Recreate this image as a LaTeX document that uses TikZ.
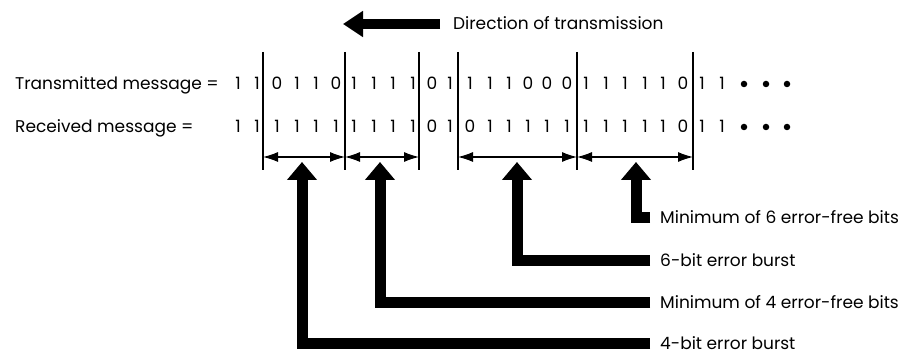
\documentclass[tikz,border=0pt]{standalone}
\usepackage{fontspec}
\setmainfont{Poppins}
\usetikzlibrary{arrows.meta}
\begin{document}
\begin{tikzpicture}[x=1pt,y=-1pt,
  txt/.style={font=\fontsize{17}{20}\selectfont, inner sep=0pt, text height=12pt, text depth=0pt},
  lbl/.style={txt, anchor=west},
  bit/.style={txt, anchor=center},
  sep/.style={line width=1.4pt},
  span/.style={line width=1.1pt, {Latex[length=15pt,width=10pt]}-{Latex[length=15pt,width=10pt]}},
  pointer/.style={line width=11pt, line join=miter, -{Triangle[length=18pt,width=29pt]}},
  dirarrow/.style={line width=10pt, -{Triangle[length=20pt,width=25pt]}},
  dot/.style={circle, fill, inner sep=0pt, minimum size=6.5pt}]
\useasboundingbox (0,0) rectangle (911,355);

% direction of transmission
\node[lbl] (dir) at (453,24) {Direction of transmission};
\coordinate (dirtip) at (343,24);
\draw[dirarrow] ([xshift=-13pt]dir.west) -- (dirtip);

% row labels
\node[lbl] (tx) at (15,84) {Transmitted message =};
\node[lbl] (rx) at (15,127) {Received message =};

% bit rows
\foreach \x/\t/\r [count=\k] in {238/1/1,257/1/1,277/0/1,297/1/1,316/1/1,336/0/1,
    354/1/1,374/1/1,393/1/1,413/1/1,432/0/0,450/1/1,
    470/1/0,490/1/1,509/1/1,528/0/1,547/0/1,567/0/1,
    586/1/1,606/1/1,625/1/1,645/1/1,663/1/1,683/0/0,702/1/1,722/1/1} {
  \node[bit] (t\k) at (\x,84) {\t};
  \node[bit] (r\k) at (\x,127) {\r};
}
\foreach \x [count=\k] in {744,766,787} {
  \node[dot] (td\k) at (\x,84) {};
  \node[dot] (rd\k) at (\x,127) {};
}

% group separators
\foreach \x [count=\k] in {263,345,419,458,577,693} {
  \draw[sep] (\x,52) -- (\x,170);
  \coordinate (v\k) at (\x,157);
}

% span arrows
\draw[span] (v1) -- (v2);
\draw[span] (v2) -- (v3);
\draw[span] (v4) -- (v5);
\draw[span] (v5) -- (v6);

% pointer targets under the spans
\coordinate (p1) at (302,162);
\coordinate (p2) at (380,162);
\coordinate (p3) at (517,162);
\coordinate (p4) at (636,162);

% annotations
\node[lbl] (a4) at (660,218) {Minimum of 6 error-free bits};
\node[lbl] (a3) at (660,261) {6-bit error burst};
\node[lbl] (a2) at (660,303) {Minimum of 4 error-free bits};
\node[lbl] (a1) at (660,344) {4-bit error burst};

\draw[pointer] ([xshift=-10pt]a4.west) -| (p4);
\draw[pointer] ([xshift=-10pt]a3.west) -| (p3);
\draw[pointer] ([xshift=-10pt]a2.west) -| (p2);
\draw[pointer] ([xshift=-10pt]a1.west) -| (p1);
\end{tikzpicture}
\end{document}
